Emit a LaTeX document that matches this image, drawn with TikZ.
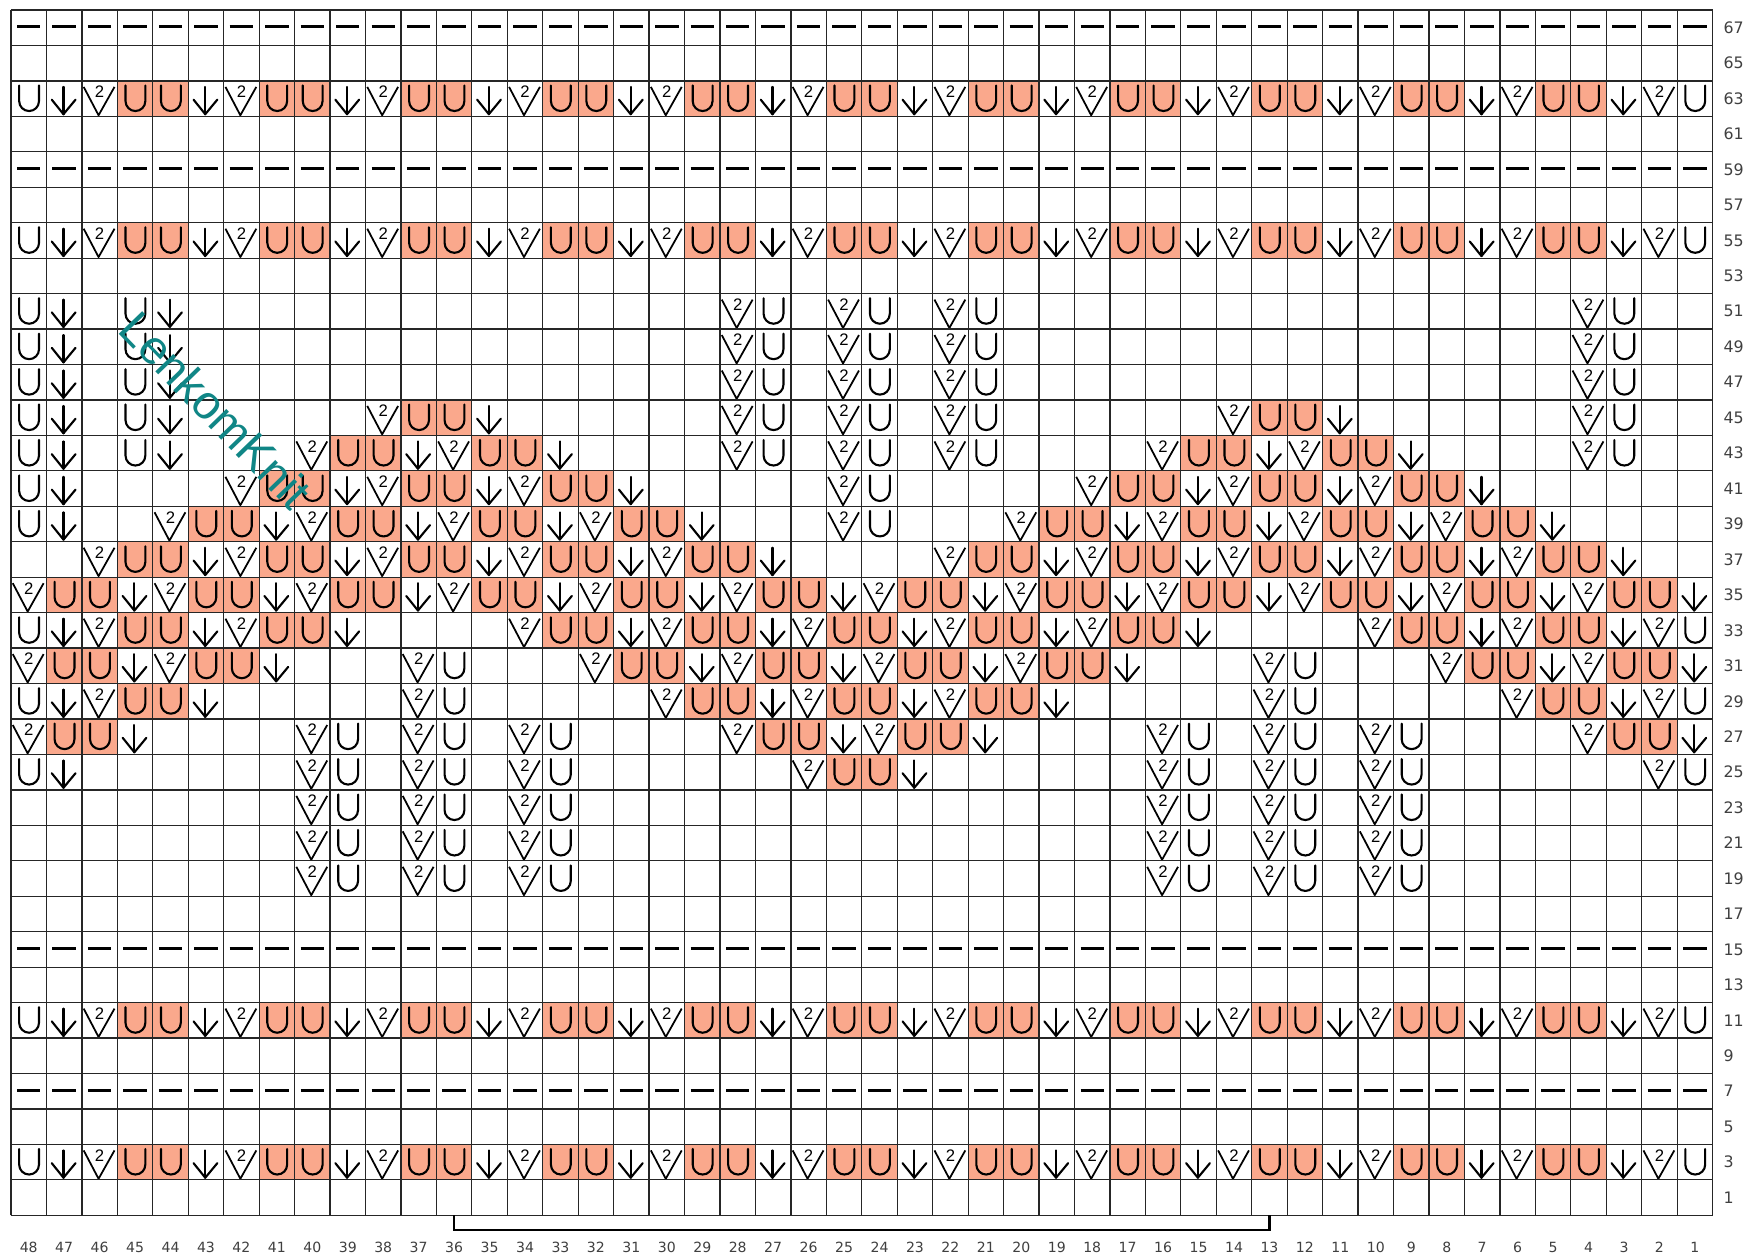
\documentclass[tikz,border=0pt]{standalone}
\usepackage{fontspec}
\setmainfont{Liberation Sans}
\newfontfamily\numfont{DejaVu Sans}
\usepackage{xcolor}
\definecolor{knitpink}{RGB}{250,168,140}
\definecolor{lenkoteal}{RGB}{16,134,134}

% one chart row: #1 = row index from the bottom, #2 = 48 symbols, col 48 first
\newcount\knitc
\newcommand\knitrow[2]{\def\knitk{#1}\knitc=0 \knitscan#2\relax}
\def\knitscan#1{\ifx#1\relax\let\knitnext\relax\else
  \edef\knitcur{\the\knitc}%
  \def\knitnext{\csname knit#1\endcsname{\knitcur}{\knitk}\global\advance\knitc by 1 \knitscan}\fi\knitnext}

% symbols, drawn in the cell whose lower left corner is (#1,#2)
\newcommand\knitU[2]{\draw[knitline] (#1+0.23,#2+0.87) -- (#1+0.23,#2+0.43)
  arc[start angle=180,end angle=360,radius=0.28] -- (#1+0.79,#2+0.87);}
\newcommand\knitu[2]{\fill[knitpink] (#1,#2) rectangle ++(1,1); \knitU{#1}{#2}}
\newcommand\knita[2]{\draw[knitline] (#1+0.48,#2+0.83) -- (#1+0.48,#2+0.06);
  \draw[knitline] (#1+0.15,#2+0.47) -- (#1+0.48,#2+0.06) -- (#1+0.82,#2+0.47);}
\newcommand\knitv[2]{\draw[vline] (#1+0.05,#2+0.83) -- (#1+0.47,#2+0.03) -- (#1+0.92,#2+0.83);
  \node[two] (two-#1-#2) at (#1+0.5,#2+0.69) {2};}
\expandafter\def\csname knit-\endcsname#1#2{\draw[dashline] (#1+0.17,#2+0.53) -- (#1+0.83,#2+0.53);}
\expandafter\def\csname knit.\endcsname#1#2{}

\begin{document}
\begin{tikzpicture}[x=0.709cm, y=0.709cm,
  knitline/.style={line width=1.2pt, line cap=round, line join=round},
  vline/.style={line width=1pt, line join=round},
  dashline/.style={line width=1.6pt},
  two/.style={inner sep=0pt, font=\fontsize{9.5}{10}\selectfont},
  gridline/.style={line width=0.7pt, black!85},
  rowlabel/.style={anchor=west, inner sep=0pt, text=black!75, font=\numfont\fontsize{9}{10}\selectfont},
  collabel/.style={inner sep=0pt, text=black!75, font=\numfont\fontsize{8}{9}\selectfont}]
  \useasboundingbox (-0.3103,-1.12) rectangle (48.999,34.282);
  \fill[white] (-0.3103,-1.12) rectangle (48.999,34.282);

  \knitrow{33}{------------ ------------ ------------ ------------}
  \knitrow{31}{U avuu avuu avuu avuu avuu avuu avuu avuu avuu avuu avuu avU}
  \knitrow{29}{------------ ------------ ------------ ------------}
  \knitrow{27}{U avuu avuu avuu avuu avuu avuu avuu avuu avuu avuu avuu avU}
  \knitrow{25}{Ua.Ua ............... vU.vU.vU ................ vU..}
  \knitrow{24}{Ua.Ua ............... vU.vU.vU ................ vU..}
  \knitrow{23}{Ua.Ua ............... vU.vU.vU ................ vU..}
  \knitrow{22}{Ua.Ua ..... vuua ...... vU.vU.vU ...... vuua ...... vU..}
  \knitrow{21}{Ua.Ua ... vuua vuua .... vU.vU.vU .... vuua vuua .... vU..}
  \knitrow{20}{Ua .... vuua vuua vuua ..... vU ..... vuua vuua vuua ......}
  \knitrow{19}{Ua .. vuua vuua vuua vuua ... vU ... vuua vuua vuua vuua ....}
  \knitrow{18}{.. vuua vuua vuua vuua vuua .... vuua vuua vuua vuua vuua ..}
  \knitrow{17}{v uuav uuav uuav uuav uuav uuav uuav uuav uuav uuav uuav uua}
  \knitrow{16}{Ua vuua vuua .... vuua vuua vuua vuua vuua .... vuua vuua vU}
  \knitrow{15}{vuua vuua ... vU ... vuua vuua vuua vuua ... vU ... vuua vuua}
  \knitrow{14}{Ua vuua ..... vU ..... vuua vuua vuua ..... vU ..... vuua vU}
  \knitrow{13}{vuua .... vU.vU.vU .... vuua vuua .... vU.vU.vU .... vuua}
  \knitrow{12}{Ua ...... vU.vU.vU ...... vuua ...... vU.vU.vU ...... vU}
  \knitrow{11}{........ vU.vU.vU ................ vU.vU.vU ........}
  \knitrow{10}{........ vU.vU.vU ................ vU.vU.vU ........}
  \knitrow{9}{........ vU.vU.vU ................ vU.vU.vU ........}
  \knitrow{7}{------------ ------------ ------------ ------------}
  \knitrow{5}{U avuu avuu avuu avuu avuu avuu avuu avuu avuu avuu avuu avU}
  \knitrow{3}{------------ ------------ ------------ ------------}
  \knitrow{1}{U avuu avuu avuu avuu avuu avuu avuu avuu avuu avuu avuu avU}

  \foreach \i in {0,...,48} \draw[gridline] (\i,0) -- (\i,34);
  \foreach \k in {0,...,34} \draw[gridline] (0,\k) -- (48,\k);

  \foreach \k in {0,...,33} {
    \pgfmathtruncatemacro\r{2*\k+1}
    \node[rowlabel] (row-\r) at (48.3,\k+0.5) {\r};
  }
  \foreach \i in {0,...,47} {
    \pgfmathtruncatemacro\c{48-\i}
    \node[collabel] (col-\c) at (\i+0.5,-0.894) {\c};
  }

  % repeat
  \draw[line width=1.2pt] (12.5,0) -- (12.5,-0.415) -- (35.5,-0.415) -- (35.5,0);

  \node[rotate=-46, text=lenkoteal, font=\fontsize{27}{30}\selectfont] (mark) at (5.78,22.72) {LenkomKnit};
\end{tikzpicture}
\end{document}
